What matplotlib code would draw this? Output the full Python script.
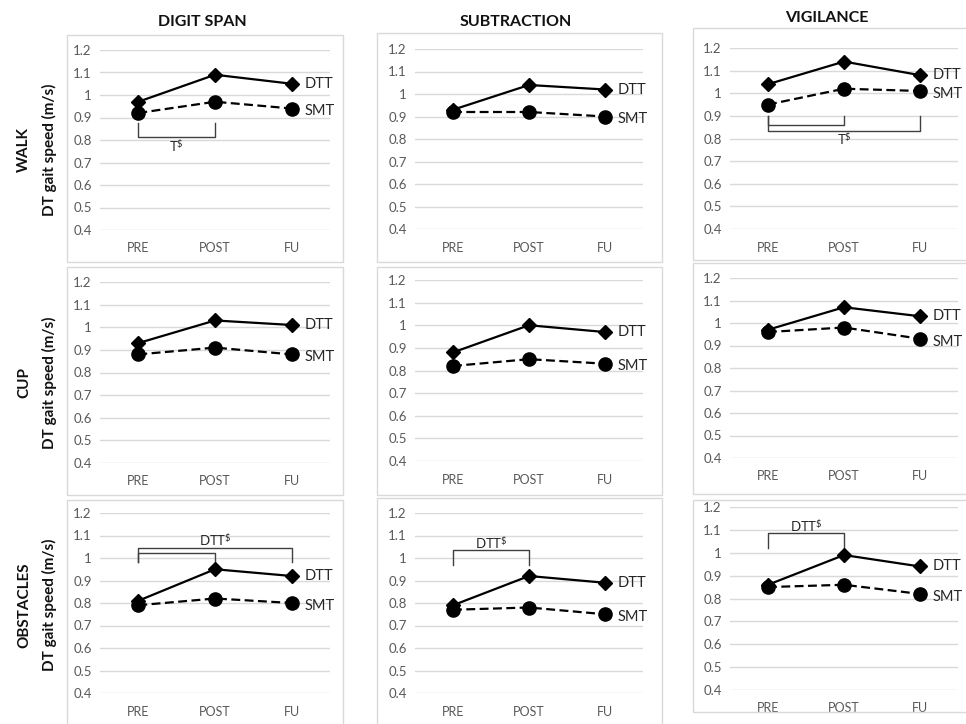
import matplotlib.pyplot as plt
from matplotlib.patches import Rectangle

plt.rcParams['font.family'] = ['Lato', 'DejaVu Sans']
plt.rcParams['mathtext.fontset'] = 'custom'
plt.rcParams['mathtext.rm'] = 'Lato'

# ---------------- data ----------------
phases = ['PRE', 'POST', 'FU']
tasks = ['DIGIT SPAN', 'SUBTRACTION', 'VIGILANCE']
conditions = ['WALK', 'CUP', 'OBSTACLES']
yticks = [0.4, 0.5, 0.6, 0.7, 0.8, 0.9, 1.0, 1.1, 1.2]
ytick_labels = ['0.4', '0.5', '0.6', '0.7', '0.8', '0.9', '1', '1.1', '1.2']

# one list per task (digit span, subtraction, vigilance)
dtt_walk = [[0.97, 1.09, 1.05], [0.93, 1.04, 1.02], [1.04, 1.14, 1.08]]
smt_walk = [[0.92, 0.97, 0.94], [0.92, 0.92, 0.90], [0.95, 1.02, 1.01]]
dtt_cup = [[0.93, 1.03, 1.01], [0.88, 1.00, 0.97], [0.97, 1.07, 1.03]]
smt_cup = [[0.88, 0.91, 0.88], [0.82, 0.85, 0.83], [0.96, 0.98, 0.93]]
dtt_obst = [[0.81, 0.95, 0.92], [0.79, 0.92, 0.89], [0.86, 0.99, 0.94]]
smt_obst = [[0.79, 0.82, 0.80], [0.77, 0.78, 0.75], [0.85, 0.86, 0.82]]
dtt_all = [dtt_walk, dtt_cup, dtt_obst]
smt_all = [smt_walk, smt_cup, smt_obst]

# significance brackets: (from, to, y of bar, y of ends)
brackets = {
    (0, 0): [(0, 1, 0.813, 0.876)],
    (0, 2): [(0, 1, 0.859, 0.90), (0, 2, 0.833, 0.90)],
    (2, 0): [(0, 1, 1.024, 0.984), (0, 2, 1.043, 0.984)],
    (2, 1): [(0, 1, 1.035, 0.968)],
    (2, 2): [(0, 1, 1.085, 1.02)],
}
bracket_text = {
    (0, 0): (0.5, 0.77, r'T$^\mathregular{\$}$'),
    (0, 2): (1.0, 0.795, r'T$^\mathregular{\$}$'),
    (2, 0): (1.0, 1.08, r'DTT$^\mathregular{\$}$'),
    (2, 1): (0.5, 1.066, r'DTT$^\mathregular{\$}$'),
    (2, 2): (0.5, 1.114, r'DTT$^\mathregular{\$}$'),
}

# ---------------- layout (pixels) ----------------
W, H = 966, 724
col_x = [(100, 330), (415, 643), (730, 958)]
plot_y = [[(50, 230), (49, 229), (48, 229)],
          [(282, 463), (280, 461), (278, 458)],
          [(513, 693), (513, 693), (507, 690)]]
box_x = [(67, 343), (377, 662), (693, 970)]
box_y = [[(35, 262), (33, 262), (28, 260)],
         [(267, 495), (267, 495), (263, 494)],
         [(500, 730), (498, 730), (500, 712)]]

fig = plt.figure(figsize=(W / 100, H / 100), dpi=100)


def frac_rect(x0, x1, y0, y1):
    return [x0 / W, 1 - y1 / H, (x1 - x0) / W, (y1 - y0) / H]


ink = '#000000'
grid_c = '#d9d9d9'
text_c = '#595959'

for r in range(3):
    for c in range(3):
        bx0, bx1 = box_x[c]
        by0, by1 = box_y[r][c]
        fig.patches.append(Rectangle((bx0 / W, 1 - by1 / H), (bx1 - bx0) / W, (by1 - by0) / H,
                                     transform=fig.transFigure, fill=False,
                                     edgecolor=grid_c, linewidth=1.0))
        x0, x1 = col_x[c]
        y0, y1 = plot_y[r][c]
        ax = fig.add_axes(frac_rect(x0, x1, y0, y1))
        ax.set_xlim(-0.5, 2.5)
        ax.set_ylim(0.4, 1.2)
        for s in ax.spines.values():
            s.set_visible(False)
        for yv in yticks:
            ax.axhline(yv, color=grid_c, linewidth=1.0, zorder=0)
        ax.set_yticks(yticks)
        ax.set_yticklabels(ytick_labels)
        ax.set_xticks(range(3))
        ax.set_xticklabels(phases)
        ax.tick_params(length=0, labelcolor=text_c)
        ax.tick_params(axis='y', pad=6, labelsize=9.5)
        ax.tick_params(axis='x', pad=9, labelsize=9)
        ax.patch.set_visible(False)

        xs = list(range(3))
        ax.plot(xs, dtt_all[r][c], color=ink, linewidth=1.6, marker='D',
                markersize=7.5, clip_on=False, zorder=3)
        ax.plot(xs, smt_all[r][c], color=ink, linewidth=1.6, linestyle=(0, (4, 2)),
                marker='o', markersize=9.5, clip_on=False, zorder=3)
        ax.annotate('DTT', (2, dtt_all[r][c][2]), xytext=(9, 0), textcoords='offset points',
                    va='center', ha='left', fontsize=10.5, color='#262626', annotation_clip=False)
        ax.annotate('SMT', (2, smt_all[r][c][2]), xytext=(9, -2), textcoords='offset points',
                    va='center', ha='left', fontsize=10.5, color='#262626', annotation_clip=False)

        for (i0, i1, yb, ye) in brackets.get((r, c), []):
            ax.plot([i0, i0, i1, i1], [ye, yb, yb, ye], color='#404040', linewidth=1.0,
                    clip_on=False, zorder=2)
        if (r, c) in bracket_text:
            tx, ty, tt = bracket_text[(r, c)]
            ax.text(tx, ty, tt, ha='center', va='center', fontsize=9.5, color='#262626')

# column titles
title_pos = [(202, 22), (516, 22), (827, 18)]
for t, (px, py) in zip(tasks, title_pos):
    fig.text(px / W, 1 - py / H, t, ha='center', va='center', fontsize=11.5,
             fontweight='bold', color='#111111')

# row labels
row_centers = [150, 383, 605]
for cond, yc in zip(conditions, row_centers):
    fig.text(24 / W, 1 - yc / H, cond, rotation=90, ha='center', va='center',
             fontsize=11, fontweight='bold', color='#111111')
    fig.text(49 / W, 1 - yc / H, 'DT gait speed (m/s)', rotation=90, ha='center',
             va='center', fontsize=11, fontweight='bold', color='#111111')

fig.savefig('out.png', dpi=100)
